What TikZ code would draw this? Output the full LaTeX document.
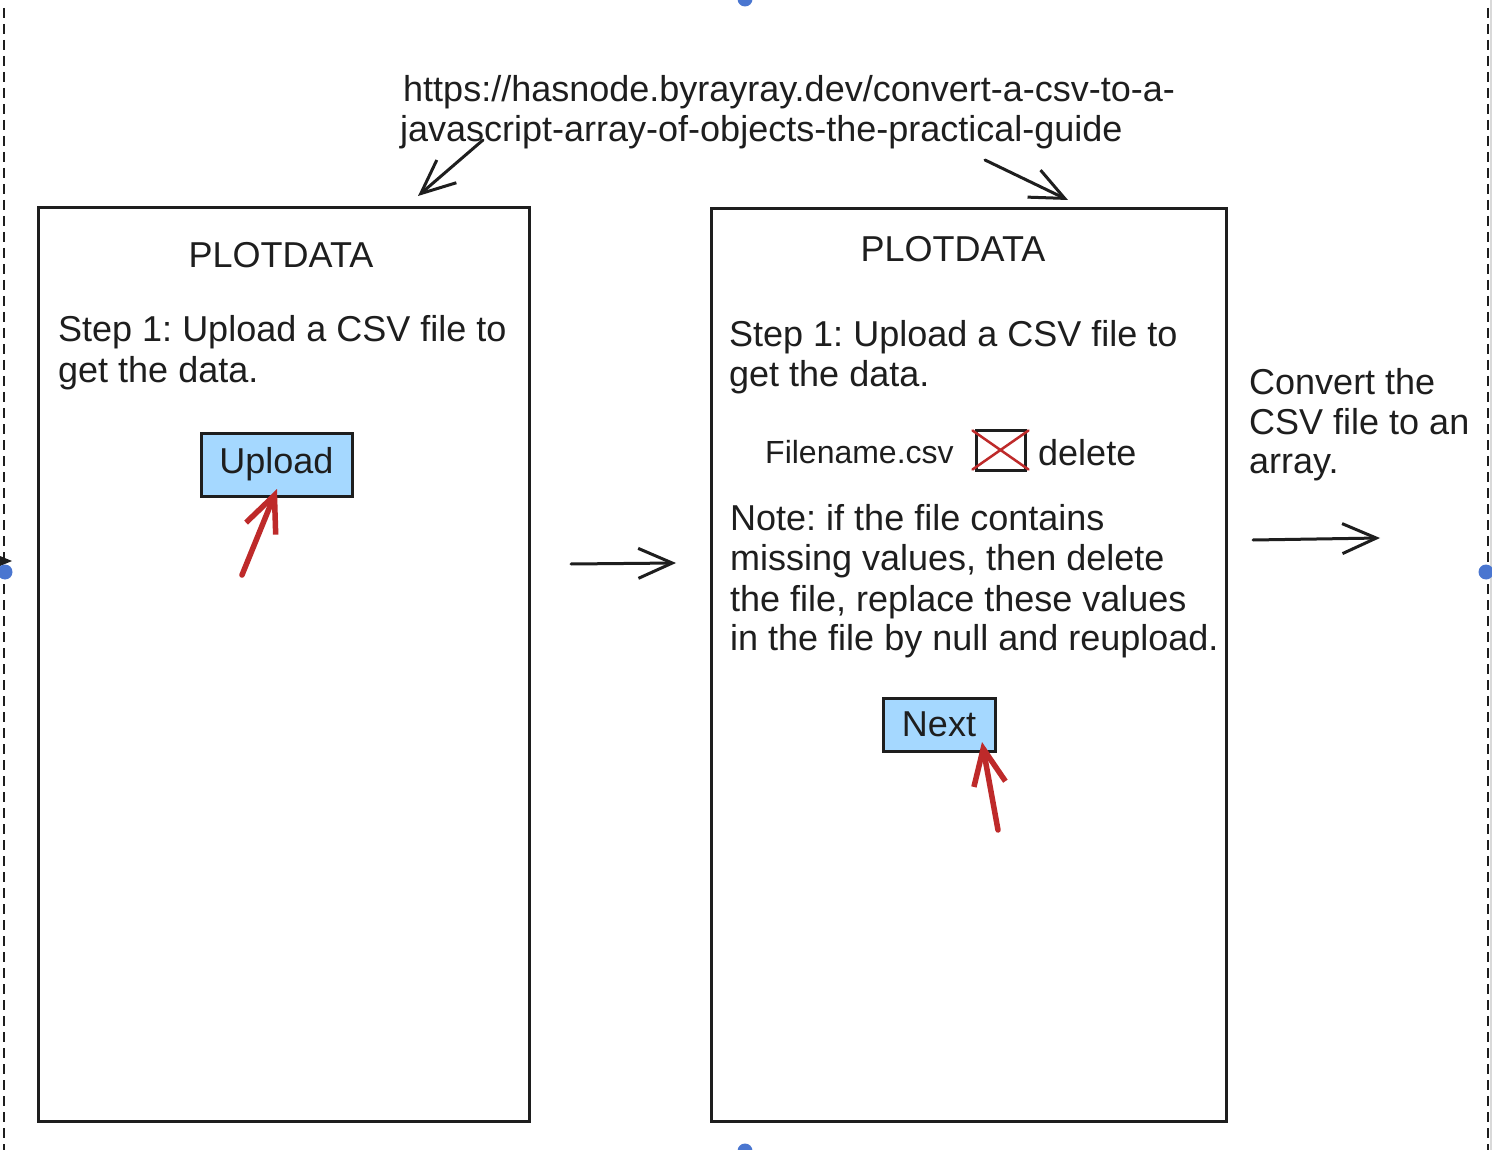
\documentclass[tikz,border=0pt]{standalone}
\usepackage{fontspec}
\setmainfont{Liberation Sans}
\usetikzlibrary{arrows.meta}
\definecolor{ink}{HTML}{1E1E1E}
\definecolor{btn}{HTML}{A5D8FF}
\definecolor{redarr}{HTML}{BE2A2A}
\definecolor{handle}{HTML}{4A76D0}
\frenchspacing
\begin{document}
\begin{tikzpicture}[x=1pt,y=-1pt,
  txt/.style={inner sep=0pt, anchor=base west, text=ink, font=\fontsize{36}{40}\selectfont},
  ttl/.style={inner sep=0pt, anchor=base, text=ink, font=\fontsize{36}{40}\selectfont},
  screen/.style={draw=ink, line width=3pt, anchor=north west, inner sep=0pt},
  button/.style={draw=ink, fill=btn, line width=3pt, inner sep=0pt, text=ink, font=\fontsize{36}{40}\selectfont},
  arr/.style={draw=ink, line width=3pt, line cap=round, -{Straight Barb[length=34pt, width=30pt, line width=3pt]}},
  redarrow/.style={draw=redarr, line width=5.5pt, line cap=round, -{Straight Barb[length=36pt, width=32pt, line width=5.5pt]}},
  handledot/.style={fill=handle, draw=none}]
\useasboundingbox (0,0) rectangle (1492,1150);
\fill[white] (0,0) rectangle (1492,1150);

% frame edges
\draw[ink, line width=2.5pt, dash pattern=on 10pt off 6pt] (4,8) -- (4,1150);
\draw[ink, line width=2.5pt, dash pattern=on 10pt off 6pt] (1488,8) -- (1488,1150);
\draw[gray!30, line width=1.5pt] (1491,0) -- (1491,1150);
\fill[ink] (0,556) -- (12,561) -- (0,566) -- cycle;

% screens
\node[screen, minimum width=491pt, minimum height=914pt] (left) at (37,206) {};
\node[screen, minimum width=515pt, minimum height=913pt] (right) at (710,207) {};

% URL
\node[txt] (url1) at (403,102) {https://hasnode.byrayray.dev/convert-a-csv-to-a-};
\node[txt] (url2) at (400,142) {javascript-array-of-objects-the-practical-guide};
\coordinate (ua0) at (483,140);
\coordinate (ua1) at (418,196);
\coordinate (ub0) at (985,160);
\coordinate (ub1) at (1068,200);
\draw[arr] (ua0) -- (ua1);
\draw[arr] (ub0) -- (ub1);

% left screen content
\node[ttl] (lt) at (281,268) {PLOTDATA};
\node[txt] (ls1) at (58,342) {Step 1: Upload a CSV file to};
\node[txt] (ls2) at (58,382) {get the data.};
\node[button, minimum width=151pt, minimum height=63pt] (upload) at (276.5,464.5) {Upload};
\coordinate (ra0) at (242,575);
\coordinate (ra1) at (277,489);
\draw[redarrow] (ra0) -- (ra1);

% middle arrow
\coordinate (m0) at (571,564);
\coordinate (m1) at (676,563);
\draw[arr] (m0) -- (m1);

% right screen content
\node[ttl] (rt) at (953,262) {PLOTDATA};
\node[txt] (rs1) at (729,347) {Step 1: Upload a CSV file to};
\node[txt] (rs2) at (729,387) {get the data.};
\node[txt, font=\fontsize{32}{40}\selectfont] (fname) at (765,463) {Filename.csv};
\node[draw=ink, line width=3pt, minimum width=49pt, minimum height=40pt, inner sep=0pt] (cb) at (1000.5,450) {};
\draw[redarr, line width=2.5pt, line cap=round] ([shift={(-2pt,-2pt)}]cb.north west) -- ([shift={(2pt,2pt)}]cb.south east);
\draw[redarr, line width=2.5pt, line cap=round] ([shift={(-2pt,2pt)}]cb.south west) -- ([shift={(2pt,-2pt)}]cb.north east);
\node[txt] (del) at (1038,465) {delete};
\node[txt] (n1) at (730,530) {Note: if the file contains};
\node[txt] (n2) at (730,570) {missing values, then delete};
\node[txt] (n3) at (730,611) {the file, replace these values};
\node[txt] (n4) at (730,650) {in the file by null and reupload.};
\node[button, minimum width=112pt, minimum height=53pt] (next) at (939,724.5) {Next};
\coordinate (rb0) at (998,830);
\coordinate (rb1) at (982,742);
\draw[redarrow] (rb0) -- (rb1);

% right side text
\node[txt] (c1) at (1249,395) {Convert the};
\node[txt] (c2) at (1249,435) {CSV file to an};
\node[txt] (c3) at (1249,473) {array.};
\coordinate (o0) at (1253,540);
\coordinate (o1) at (1380,538);
\draw[arr] (o0) -- (o1);

% selection handles
\fill[handledot] (5,572) circle (7.5pt);
\fill[handledot] (1486,572) circle (7.5pt);
\fill[handledot] (745,-1) circle (7.5pt);
\fill[handledot] (745,1151) circle (7.5pt);
\end{tikzpicture}
\end{document}
